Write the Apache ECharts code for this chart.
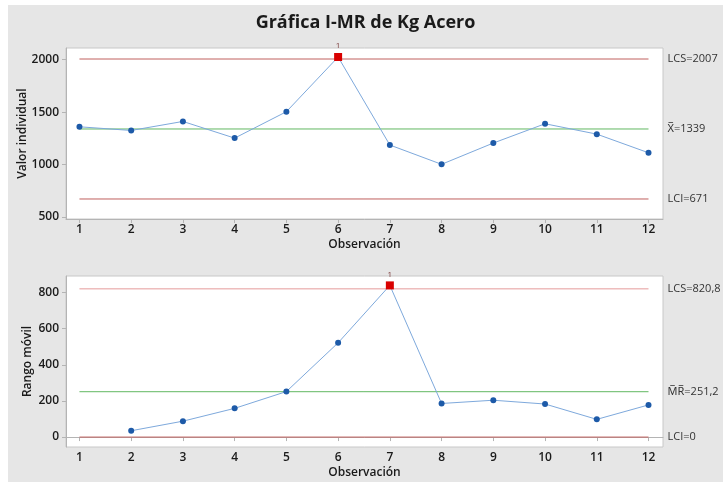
<!DOCTYPE html>
<html>
<head>
<meta charset="utf-8">
<script src="https://cdn.jsdelivr.net/npm/echarts@6/dist/echarts.min.js"></script>
<style>
  html, body { margin: 0; padding: 0; background: #ffffff; }
  #chart { position: absolute; left: 8px; top: 5px; width: 715px; height: 477px; background: #e6e6e6; }
</style>
</head>
<body>
<div id="chart"></div>
<script>
// Observations and their individual values (Kg Acero)
const observations = [1, 2, 3, 4, 5, 6, 7, 8, 9, 10, 11, 12];
const individualValues = [1360, 1325, 1411, 1252, 1504, 2026, 1186, 1002, 1205, 1389, 1290, 1112];
// Moving ranges (first observation has none)
const movingRanges = [null, 35, 88, 159, 252, 522, 840, 186, 204, 183, 98, 178];

// Control limits
const iLimits = { lcs: 2007, center: 1339, lci: 671 };
const mrLimits = { lcs: 820.8, center: 251.2, lci: 0 };

// Labels shown to the right of the limit lines
const iLimitLabels = ['LCS=2007', 'X\u0305=1339', 'LCI=671'];
const mrLimitLabels = ['LCS=820,8', 'M\u0305R\u0305=251,2', 'LCI=0'];

// Tick labels
const iTicks = [500, 1000, 1500, 2000];
const mrTicks = [0, 200, 400, 600, 800];

// Points flagged by test 1 (beyond the limits)
const iFlagged = [6];
const mrFlagged = [7];

const FONT = '"Open Sans", "Noto Sans", sans-serif';
const limitRed = '#c0605e';
const limitRedLight = '#e59a9a';
const centerGreen = '#62b862';
const lineBlue = '#7ea9dc';
const dotBlue = '#1d5aa8';
const flagRed = '#d90000';

const chart = echarts.init(document.getElementById('chart'), null, { renderer: 'canvas' });

function pointData(values, flagged) {
  return observations.map((x, i) => {
    if (values[i] == null) return null;
    if (flagged.includes(x)) {
      return {
        value: [x, values[i]],
        symbol: 'rect',
        symbolSize: 8,
        itemStyle: { color: flagRed },
        label: {
          show: true, formatter: '1', position: 'top', distance: 3,
          fontSize: 8, color: '#7a3a3a', fontFamily: FONT
        }
      };
    }
    return { value: [x, values[i]] };
  }).filter(d => d !== null);
}

function limitLine(yIndex, value, color, text) {
  return {
    type: 'line',
    xAxisIndex: yIndex, yAxisIndex: yIndex,
    data: [[observations[0], value], [observations[observations.length - 1], value]],
    symbol: 'none',
    silent: true,
    lineStyle: { color: color, width: 1 },
    z: 1,
    endLabel: {
      show: true, formatter: text, distance: 19,
      fontSize: 11, color: '#333333', fontFamily: FONT
    }
  };
}

function xAxis(gridIndex) {
  return {
    type: 'value', gridIndex: gridIndex,
    min: 0.74, max: 12.28,
    name: 'Observación', nameLocation: 'middle', nameGap: 20,
    nameTextStyle: { fontSize: 12, fontWeight: 600, color: '#1a1a1a', fontFamily: FONT },
    axisLine: { show: true, lineStyle: { color: '#b4b4b4' } },
    axisTick: { show: true, length: 4, customValues: observations, lineStyle: { color: '#b4b4b4' } },
    axisLabel: { customValues: observations, margin: 5, fontSize: 12, fontWeight: 600, color: '#1a1a1a', fontFamily: FONT },
    splitLine: { show: false }
  };
}

function yAxis(gridIndex, name, min, max, ticks, gap) {
  return {
    type: 'value', gridIndex: gridIndex,
    min: min, max: max,
    name: name, nameLocation: 'middle', nameGap: gap, nameRotate: 90,
    nameMoveOverlap: false,
    nameTextStyle: { fontSize: 12, fontWeight: 600, color: '#1a1a1a', fontFamily: FONT },
    axisLine: { show: true, lineStyle: { color: '#b4b4b4' } },
    axisTick: { show: true, length: 4, customValues: ticks, lineStyle: { color: '#b4b4b4' } },
    axisLabel: {
      customValues: ticks, margin: 7, fontSize: 12, fontWeight: 600, color: '#1a1a1a', fontFamily: FONT,
      formatter: v => String(v)
    },
    splitLine: { show: false }
  };
}

const option = {
  animation: false,
  title: {
    text: 'Gráfica I-MR de Kg Acero',
    left: 'center', top: 4,
    textStyle: { fontSize: 18, fontWeight: 'bold', color: '#1a1a1a', fontFamily: FONT }
  },
  grid: [
    { left: 58, right: 60, top: 43, height: 171, show: true, backgroundColor: '#ffffff', borderColor: '#c8c8c8', borderWidth: 1, containLabel: false, outerBoundsMode: 'none' },
    { left: 58, right: 60, top: 271, height: 171, show: true, backgroundColor: '#ffffff', borderColor: '#c8c8c8', borderWidth: 1, containLabel: false, outerBoundsMode: 'none' }
  ],
  xAxis: [xAxis(0), xAxis(1)],
  yAxis: [
    yAxis(0, 'Valor individual', 480, 2112, iTicks, 37),
    yAxis(1, 'Rango móvil', -55, 892, mrTicks, 32)
  ],
  series: [
    limitLine(0, iLimits.lcs, limitRed, iLimitLabels[0]),
    limitLine(0, iLimits.center, centerGreen, iLimitLabels[1]),
    limitLine(0, iLimits.lci, limitRed, iLimitLabels[2]),
    limitLine(1, mrLimits.lcs, limitRedLight, mrLimitLabels[0]),
    limitLine(1, mrLimits.center, centerGreen, mrLimitLabels[1]),
    limitLine(1, mrLimits.lci, limitRed, mrLimitLabels[2]),
    {
      type: 'line', xAxisIndex: 0, yAxisIndex: 0,
      data: pointData(individualValues, iFlagged),
      symbol: 'circle', symbolSize: 6,
      itemStyle: { color: dotBlue },
      lineStyle: { color: lineBlue, width: 1 },
      z: 3
    },
    {
      type: 'line', xAxisIndex: 1, yAxisIndex: 1,
      data: pointData(movingRanges, mrFlagged),
      symbol: 'circle', symbolSize: 6,
      itemStyle: { color: dotBlue },
      lineStyle: { color: lineBlue, width: 1 },
      z: 3
    }
  ]
};

chart.setOption(option);
</script>
</body>
</html>
